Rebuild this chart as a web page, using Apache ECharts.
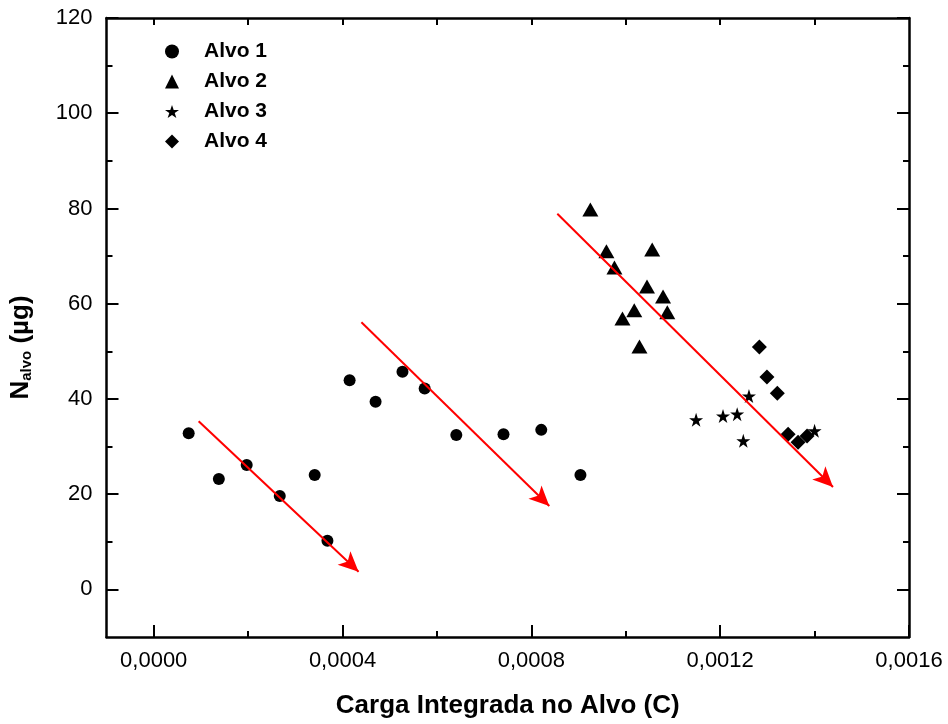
<!DOCTYPE html>
<html>
<head>
<meta charset="utf-8">
<script src="https://cdn.jsdelivr.net/npm/echarts@6/dist/echarts.min.js"></script>
<style>
html,body{margin:0;padding:0;background:#fff;}
#c{width:948px;height:724px;}
</style>
</head>
<body>
<div id="c"></div>
<script>
// ---- data ----
const seriesNames = ['Alvo 1', 'Alvo 2', 'Alvo 3', 'Alvo 4'];
const alvo1X = [0.0000741, 0.000138, 0.000197, 0.000267, 0.000341, 0.000368, 0.000415, 0.000470, 0.000527, 0.000574, 0.000641, 0.000741, 0.000821, 0.000904];
const alvo1Y = [32.8, 23.2, 26.1, 19.6, 24.0, 10.2, 43.9, 39.4, 45.7, 42.2, 32.4, 32.6, 33.5, 24.0];
const alvo2X = [0.000925, 0.000959, 0.000976, 0.001056, 0.001045, 0.001079, 0.001018, 0.000993, 0.001088, 0.001029];
const alvo2Y = [79.8, 71.0, 67.6, 71.4, 63.6, 61.5, 58.6, 56.9, 58.2, 51.0];
const alvo3X = [0.001149, 0.001206, 0.001236, 0.001261, 0.001249, 0.001400];
const alvo3Y = [35.6, 36.4, 36.8, 40.6, 31.2, 33.3];
const alvo4X = [0.001283, 0.001299, 0.001321, 0.001344, 0.001365, 0.001384];
const alvo4Y = [50.9, 44.6, 41.2, 32.6, 30.9, 32.2];
// trend arrows (start -> end)
const arrowX1 = [0.0000952, 0.000440, 0.000855];
const arrowY1 = [35.3, 56.1, 78.9];
const arrowX2 = [0.000434, 0.000838, 0.001439];
const arrowY2 = [3.7, 17.5, 21.5];
// ticks
const xMajorTicks = [0, 0.0004, 0.0008, 0.0012, 0.0016];
const xMinorTicks = [0.0002, 0.0006, 0.0010, 0.0014];
const xTopTicks = [0, 0.0002, 0.0004, 0.0006, 0.0008, 0.0010, 0.0012, 0.0014];
const yMajorTicks = [0, 20, 40, 60, 80, 100, 120];
const yMinorTicks = [10, 30, 50, 70, 90, 110];
const xTitle = 'Carga Integrada no Alvo (C)';

const zip = (xs, ys) => xs.map((x, i) => [x, ys[i]]);
const starPath = 'path://M50,0 L61.8,35.1 L98.9,35.1 L68.9,56.8 L80.3,91.9 L50,70.2 L19.7,91.9 L31.1,56.8 L1.1,35.1 L38.2,35.1 Z';

const XMIN = -0.0001, XMAX = 0.0016, YMIN = -10, YMAX = 120;
const lineW = 2.5;
const black = '#000';
const font = 'Liberation Sans, Arial, sans-serif';
const markStyle = { color: black, opacity: 1 };

function xAx(pos, opts) {
  return Object.assign({
    type: 'value', position: pos, min: XMIN, max: XMAX,
    splitLine: { show: false },
    axisLine: { show: false, onZero: false, lineStyle: { color: black, width: lineW } },
    axisLabel: { show: false },
    axisTick: { show: false }
  }, opts);
}
function yAx(pos, opts) {
  return Object.assign({
    type: 'value', position: pos, min: YMIN, max: YMAX,
    splitLine: { show: false },
    axisLine: { show: false, onZero: false, lineStyle: { color: black, width: lineW } },
    axisLabel: { show: false },
    axisTick: { show: false }
  }, opts);
}

const arrowData = arrowX1.map((x, i) => [
  { coord: [x, arrowY1[i]] },
  { coord: [arrowX2[i], arrowY2[i]] }
]);

const option = {
  animation: false,
  backgroundColor: '#fff',
  grid: { left: 106, right: 39, top: 18, bottom: 85, containLabel: false },
  legend: {
    orient: 'vertical', left: 160, top: 36,
    itemWidth: 14, itemHeight: 14, itemGap: 9,
    textStyle: { fontFamily: font, fontWeight: 'bold', fontSize: 21, color: black, lineHeight: 21, padding: [0, 0, 0, 20] },
    data: seriesNames
  },
  xAxis: [
    xAx('bottom', {
      name: xTitle, nameLocation: 'middle', nameGap: 56,
      nameTextStyle: { fontFamily: font, fontWeight: 'bold', fontSize: 26, color: black },
      axisLine: { show: true, onZero: false, lineStyle: { color: black, width: lineW } },
      axisTick: { show: true, inside: true, length: 12, customValues: xMajorTicks, lineStyle: { color: black, width: 2 } },
      axisLabel: { show: true, customValues: xMajorTicks, margin: 13, fontFamily: font, fontSize: 22, color: black,
        formatter: v => v.toFixed(4).replace('.', ',') }
    }),
    xAx('bottom', {
      axisTick: { show: true, inside: true, length: 6, customValues: xMinorTicks, lineStyle: { color: black, width: 2 } }
    }),
    xAx('top', {
      axisLine: { show: true, onZero: false, lineStyle: { color: black, width: lineW } },
      axisTick: { show: true, inside: true, length: 7, customValues: xTopTicks, lineStyle: { color: black, width: 2 } }
    })
  ],
  yAxis: [
    yAx('left', {
      name: 'N{sub|alvo} (µg)', nameLocation: 'middle', nameGap: 72, nameRotate: 90,
      nameTextStyle: { fontFamily: font, fontWeight: 'bold', fontSize: 26, color: black, padding: [0, 40, 0, 0],
        rich: { sub: { fontFamily: font, fontWeight: 'bold', fontSize: 15, color: black, verticalAlign: 'bottom', padding: [12, 0, 0, 0] } } },
      axisLine: { show: true, onZero: false, lineStyle: { color: black, width: lineW } },
      axisTick: { show: true, inside: true, length: 12, customValues: yMajorTicks, lineStyle: { color: black, width: 2 } },
      axisLabel: { show: true, customValues: yMajorTicks, margin: 14, fontFamily: font, fontSize: 22, color: black }
    }),
    yAx('left', {
      axisTick: { show: true, inside: true, length: 6, customValues: yMinorTicks, lineStyle: { color: black, width: 2 } }
    }),
    yAx('right', {
      axisLine: { show: true, onZero: false, lineStyle: { color: black, width: lineW } },
      axisTick: { show: true, inside: true, length: 12, customValues: yMajorTicks, lineStyle: { color: black, width: 2 } }
    }),
    yAx('right', {
      axisTick: { show: true, inside: true, length: 6, customValues: yMinorTicks, lineStyle: { color: black, width: 2 } }
    })
  ],
  series: [
    {
      name: seriesNames[0], type: 'scatter', symbol: 'circle', symbolSize: 12,
      itemStyle: markStyle, data: zip(alvo1X, alvo1Y),
      markLine: {
        silent: true, symbol: ['none', 'arrow'], symbolSize: [14, 20], precision: 8,
        label: { show: false },
        lineStyle: { color: '#ff0000', width: 2, type: 'solid', opacity: 1 },
        itemStyle: { color: '#ff0000' },
        emphasis: { disabled: true },
        data: arrowData
      }
    },
    { name: seriesNames[1], type: 'scatter', symbol: 'triangle', symbolSize: [16, 14], itemStyle: markStyle, data: zip(alvo2X, alvo2Y) },
    { name: seriesNames[2], type: 'scatter', symbol: starPath, symbolSize: 14, itemStyle: markStyle, data: zip(alvo3X, alvo3Y) },
    { name: seriesNames[3], type: 'scatter', symbol: 'diamond', symbolSize: 15, itemStyle: markStyle, data: zip(alvo4X, alvo4Y) }
  ]
};

const chart = echarts.init(document.getElementById('c'), null, { renderer: 'canvas' });
chart.setOption(option);
</script>
</body>
</html>
